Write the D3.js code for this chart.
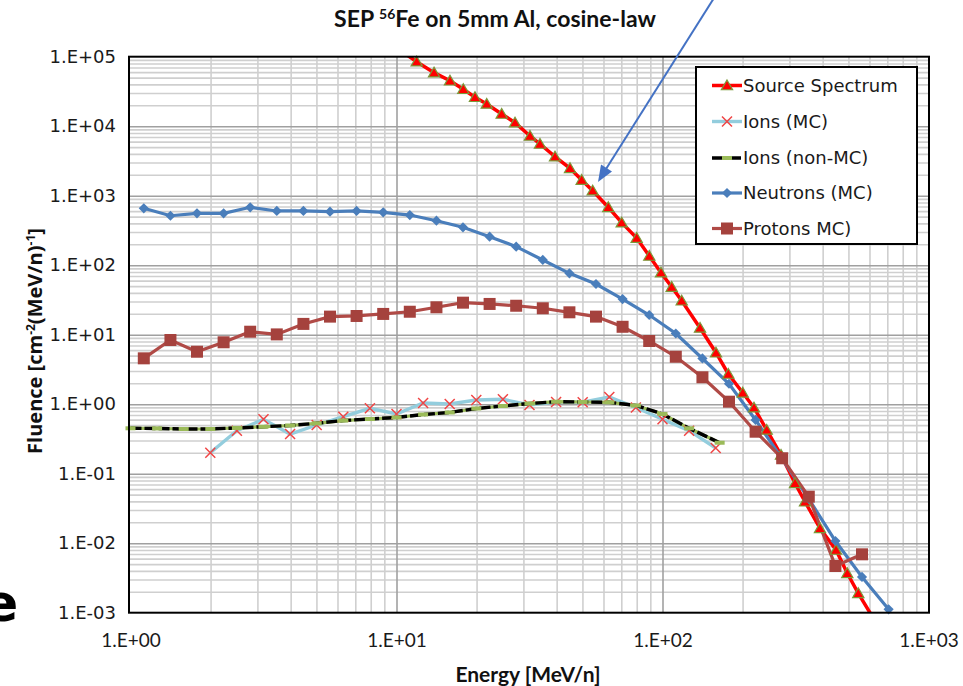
<!DOCTYPE html>
<html>
<head>
<meta charset="utf-8">
<script src="https://cdn.jsdelivr.net/npm/d3@7"></script>
<style>
  body { margin: 0; background: #fff; }
  svg { display: block; }
</style>
</head>
<body>
<svg id="chart" width="963" height="686"></svg>
<script>
// ---- Data: fluence spectra behind 5 mm Al (energy in MeV/n, fluence in cm^-2 (MeV/n)^-1)
const sourceEnergy = [11.0, 11.91, 13.84, 15.89, 17.83, 19.73, 21.84, 24.86, 27.90, 31.76, 34.63, 39.44, 44.91,
  49.69, 54.65, 62.55, 70.26, 79.98, 89.21, 98.72, 108.3, 118.1, 138.4, 158.9, 176.8, 200.3,
  220.8, 246.5, 279.0, 314.9, 343.4, 390.9, 449.1, 495.1, 544.6, 613.0];
const sourceFluence = [105000, 84700, 58900, 45100, 34000, 26100, 20900, 14980, 11230, 7230, 5545, 3640, 2480,
  1680, 1180, 681, 409, 246, 135.6, 78, 48.5, 30.8, 12.5, 5.5, 2.72, 1.46,
  0.891, 0.426, 0.186, 0.0728, 0.0395, 0.01637, 0.00798, 0.00369, 0.0019, 0.000897];

const ionMcEnergy = [1.995, 2.512, 3.162, 3.981, 5.012, 6.310, 7.943, 10.0, 12.59, 15.85,
  19.95, 25.12, 31.62, 39.81, 50.12, 63.10, 79.43, 100.0, 125.9, 158.5];
const ionMcFluence = [0.2005, 0.416, 0.607, 0.372, 0.502, 0.661, 0.873, 0.723, 1.04, 1.007,
  1.148, 1.177, 0.973, 1.076, 1.07, 1.27, 0.897, 0.607, 0.416, 0.234];

const ionNonMcEnergy = [1.0, 1.259, 1.585, 1.995, 2.512, 3.162, 3.981, 5.012, 6.310, 7.943, 10.0, 12.59,
  15.85, 19.95, 25.12, 31.62, 39.81, 50.12, 63.10, 79.43, 100.0, 125.9, 164.0];
const ionNonMcFluence = [0.450, 0.448, 0.440, 0.440, 0.455, 0.474, 0.494, 0.531, 0.582, 0.612, 0.644, 0.711,
  0.760, 0.867, 0.942, 1.023, 1.086, 1.076, 1.065, 0.958, 0.723, 0.450, 0.279];

const neutronEnergy = [1.122, 1.413, 1.778, 2.239, 2.818, 3.548, 4.467, 5.623, 7.079, 8.913, 11.22, 14.13,
  17.78, 22.39, 28.18, 35.48, 44.67, 56.23, 70.79, 89.13, 112.2, 141.3, 177.8, 223.9,
  281.8, 354.8, 446.7, 562.3, 707.9];
const neutronFluence = [659, 515, 558, 558, 681, 603, 603, 589, 603, 577, 527, 437,
  351, 257, 185, 119, 76.4, 53.6, 32.6, 19.2, 10.4, 4.55, 1.97, 0.593,
  0.163, 0.0433, 0.01076, 0.00327, 0.00112];

const protonEnergy = neutronEnergy.slice(0, 28);
const protonFluence = [4.57, 8.39, 5.69, 7.78, 11.04, 10.1, 14.3, 18.2, 18.6, 19.9, 21.4, 24.8,
  28.9, 27.7, 26.1, 24.0, 21.0, 18.2, 13.0, 8.12, 4.82, 2.44, 1.087, 0.402,
  0.1667, 0.0467, 0.0047, 0.00692];

// ---- Axis ticks
const xTickValues = [1, 10, 100, 1000];
const xTickLabels = ["1.E+00", "1.E+01", "1.E+02", "1.E+03"];
const yTickValues = [1e-3, 1e-2, 1e-1, 1, 10, 100, 1e3, 1e4, 1e5];
const yTickLabels = ["1.E-03", "1.E-02", "1.E-01", "1.E+00", "1.E+01", "1.E+02", "1.E+03", "1.E+04", "1.E+05"];

const seriesNames = ["Source Spectrum", "Ions (MC)", "Ions (non-MC)", "Neutrons (MC)", "Protons MC)"];

// ---- Layout
const svg = d3.select("#chart");
const plot = { left: 129, right: 929, top: 56.7, bottom: 612.7 };

const x = d3.scaleLog().domain([1, 1000]).range([130.5, 928.5]);
const y = d3.scaleLog().domain([1e-3, 1e5]).range([plot.bottom, plot.top]);

const colors = {
  source: "#ff0000",
  sourceEdge: "#7a9a3a",
  ionMcLine: "#93cddd",
  ionMcMark: "#f04545",
  nonMcDash: "#000000",
  nonMcGreen: "#9bbb59",
  neutron: "#4a7ebb",
  protonLine: "#b04a46",
  protonMark: "#a5423d",
  gridMinor: "#cfcfcf",
  gridMajor: "#a0a0a0"
};

const defs = svg.append("defs");
defs.append("clipPath").attr("id", "plotClip")
  .append("rect")
  .attr("x", plot.left).attr("y", plot.top)
  .attr("width", plot.right - plot.left).attr("height", plot.bottom - plot.top);

// ---- Gridlines (minor 2..9 per decade, major at decades)
const isDecade = v => Math.abs(Math.log10(v) - Math.round(Math.log10(v))) < 1e-6;
const xMinor = x.ticks(40).filter(v => !isDecade(v));
const yMinor = y.ticks(80).filter(v => !isDecade(v));

const grid = svg.append("g").attr("class", "grid");
grid.append("g")
  .attr("transform", `translate(0,${plot.bottom})`)
  .call(d3.axisBottom(x).tickValues(xMinor).tickSize(-(plot.bottom - plot.top)).tickFormat(""))
  .call(g => g.select(".domain").remove())
  .call(g => g.selectAll("line").attr("stroke", colors.gridMinor).attr("stroke-width", 1.6));
grid.append("g")
  .attr("transform", `translate(${plot.left},0)`)
  .call(d3.axisLeft(y).tickValues(yMinor).tickSize(-(plot.right - plot.left)).tickFormat(""))
  .call(g => g.select(".domain").remove())
  .call(g => g.selectAll("line").attr("stroke", colors.gridMinor).attr("stroke-width", 1.6));
grid.append("g")
  .attr("transform", `translate(0,${plot.bottom})`)
  .call(d3.axisBottom(x).tickValues(xTickValues.slice(1, -1)).tickSize(-(plot.bottom - plot.top)).tickFormat(""))
  .call(g => g.select(".domain").remove())
  .call(g => g.selectAll("line").attr("stroke", colors.gridMajor).attr("stroke-width", 1.6));
grid.append("g")
  .attr("transform", `translate(${plot.left},0)`)
  .call(d3.axisLeft(y).tickValues(yTickValues.slice(1, -1)).tickSize(-(plot.right - plot.left)).tickFormat(""))
  .call(g => g.select(".domain").remove())
  .call(g => g.selectAll("line").attr("stroke", colors.gridMajor).attr("stroke-width", 1.6));

// ---- Axis tick labels
const xAxis = svg.append("g")
  .attr("transform", `translate(0,${plot.bottom})`)
  .call(d3.axisBottom(x).tickValues(xTickValues).tickSize(0).tickPadding(21)
    .tickFormat((d, i) => xTickLabels[i]));
xAxis.select(".domain").remove();
xAxis.selectAll("text")
  .attr("font-family", "Lato, 'Noto Sans', sans-serif")
  .attr("font-size", 19).attr("fill", "#1a1a1a");

const yAxis = svg.append("g")
  .attr("transform", `translate(${plot.left},0)`)
  .call(d3.axisLeft(y).tickValues(yTickValues).tickSize(0).tickPadding(13)
    .tickFormat((d, i) => yTickLabels[i]));
yAxis.select(".domain").remove();
yAxis.selectAll("text")
  .attr("font-family", "'DejaVu Sans', sans-serif")
  .attr("font-size", 18).attr("fill", "#1a1a1a");

// ---- Series
const body = svg.append("g");
const linesLayer = body.append("g").attr("clip-path", "url(#plotClip)");
const line = d3.line().x(d => x(d[0])).y(d => y(d[1]));

const sourceData = d3.zip(sourceEnergy, sourceFluence);
const ionMcData = d3.zip(ionMcEnergy, ionMcFluence);
const ionNonMcData = d3.zip(ionNonMcEnergy, ionNonMcFluence);
const neutronData = d3.zip(neutronEnergy, neutronFluence);
const protonData = d3.zip(protonEnergy, protonFluence);

const triPath = d3.symbol(d3.symbolTriangle, 55)();
const sqPath = d3.symbol(d3.symbolSquare, 144)();
const diaPath = d3.symbol(d3.symbolSquare, 52)();
const crossPath = "M-5,-5L5,5M-5,5L5,-5";

// Source spectrum
linesLayer.append("path").datum(sourceData).attr("d", line)
  .attr("fill", "none").attr("stroke", colors.source).attr("stroke-width", 3.5);
body.append("g").selectAll("path").data(sourceData.slice(1, -1)).join("path")
  .attr("d", triPath)
  .attr("transform", d => `translate(${x(d[0])},${y(d[1]) + 1})`)
  .attr("fill", colors.source).attr("stroke", colors.sourceEdge).attr("stroke-width", 1.2);

// Ions (MC)
linesLayer.append("path").datum(ionMcData).attr("d", line)
  .attr("fill", "none").attr("stroke", colors.ionMcLine).attr("stroke-width", 3.4);
body.append("g").selectAll("path").data(ionMcData).join("path")
  .attr("d", crossPath)
  .attr("transform", d => `translate(${x(d[0])},${y(d[1])})`)
  .attr("fill", "none").attr("stroke", colors.ionMcMark).attr("stroke-width", 1.5);

// Ions (non-MC)
linesLayer.append("path").datum(ionNonMcData).attr("d", line)
  .attr("fill", "none").attr("stroke", colors.nonMcGreen).attr("stroke-width", 3.2);
linesLayer.append("path").datum(ionNonMcData).attr("d", line)
  .attr("fill", "none").attr("stroke", colors.nonMcDash).attr("stroke-width", 3.4)
  .attr("stroke-dasharray", "11,3");
body.append("g").selectAll("rect").data(ionNonMcData).join("rect")
  .attr("x", d => x(d[0]) - 5).attr("y", d => y(d[1]) - 2)
  .attr("width", 10).attr("height", 4)
  .attr("fill", colors.nonMcGreen);

// Neutrons (MC)
linesLayer.append("path").datum(neutronData).attr("d", line)
  .attr("fill", "none").attr("stroke", colors.neutron).attr("stroke-width", 3.2);
body.append("g").selectAll("path").data(neutronData).join("path")
  .attr("d", diaPath)
  .attr("transform", d => `translate(${x(d[0])},${y(d[1])}) rotate(45)`)
  .attr("fill", colors.neutron);

// Protons MC
linesLayer.append("path").datum(protonData).attr("d", line)
  .attr("fill", "none").attr("stroke", colors.protonLine).attr("stroke-width", 3.2);
body.append("g").selectAll("path").data(protonData).join("path")
  .attr("d", sqPath)
  .attr("transform", d => `translate(${x(d[0])},${y(d[1])})`)
  .attr("fill", colors.protonMark);

// ---- Plot frame
svg.append("rect")
  .attr("x", plot.left).attr("y", plot.top)
  .attr("width", plot.right - plot.left).attr("height", plot.bottom - plot.top)
  .attr("fill", "none").attr("stroke", "#000").attr("stroke-width", 2);

// ---- Legend
const legend = svg.append("g").attr("transform", "translate(696,67)");
legend.append("rect").attr("width", 221).attr("height", 177)
  .attr("fill", "#fff").attr("stroke", "#000").attr("stroke-width", 2);
const rowY = [18.5, 54.5, 91, 126, 161.5];
const items = legend.selectAll("g.item").data(seriesNames).join("g")
  .attr("class", "item")
  .attr("transform", (d, i) => `translate(16,${rowY[i]})`);
items.append("text")
  .attr("x", 31).attr("y", 0).attr("dy", "0.35em")
  .attr("font-family", "'DejaVu Sans', sans-serif").attr("font-size", 18)
  .attr("fill", "#1a1a1a")
  .text(d => d);

const lg0 = items.filter((d, i) => i === 0);
lg0.append("line").attr("x1", 0).attr("x2", 30).attr("stroke", colors.source).attr("stroke-width", 3.5);
lg0.append("path").attr("d", triPath).attr("transform", "translate(15,1)")
  .attr("fill", colors.source).attr("stroke", colors.sourceEdge).attr("stroke-width", 1.2);

const lg1 = items.filter((d, i) => i === 1);
lg1.append("line").attr("x1", 0).attr("x2", 30).attr("stroke", colors.ionMcLine).attr("stroke-width", 3.4);
lg1.append("path").attr("d", crossPath).attr("transform", "translate(15,0)")
  .attr("fill", "none").attr("stroke", colors.ionMcMark).attr("stroke-width", 1.5);

const lg2 = items.filter((d, i) => i === 2);
lg2.append("line").attr("x1", 0).attr("x2", 30).attr("stroke", colors.nonMcDash).attr("stroke-width", 3.4)
  .attr("stroke-dasharray", "13,3");
lg2.append("rect").attr("x", 10).attr("y", -2).attr("width", 10).attr("height", 4).attr("fill", colors.nonMcGreen);

const lg3 = items.filter((d, i) => i === 3);
lg3.append("line").attr("x1", 0).attr("x2", 30).attr("stroke", colors.neutron).attr("stroke-width", 3.2);
lg3.append("path").attr("d", diaPath).attr("transform", "translate(15,0) rotate(45)").attr("fill", colors.neutron);

const lg4 = items.filter((d, i) => i === 4);
lg4.append("line").attr("x1", 0).attr("x2", 30).attr("stroke", colors.protonLine).attr("stroke-width", 3.2);
lg4.append("path").attr("d", sqPath).attr("transform", "translate(15,0)").attr("fill", colors.protonMark);

// ---- Titles
const title = svg.append("text")
  .attr("x", 495).attr("y", 27).attr("text-anchor", "middle")
  .attr("font-family", "Lato, 'Noto Sans', sans-serif").attr("font-weight", "bold")
  .attr("font-size", 23).attr("fill", "#111");
title.append("tspan").text("SEP ");
title.append("tspan").attr("font-size", 14).attr("dy", -8).text("56");
title.append("tspan").attr("dy", 8).text("Fe on 5mm Al, cosine-law");

svg.append("text")
  .attr("x", 528).attr("y", 682).attr("text-anchor", "middle")
  .attr("font-family", "Lato, 'Noto Sans', sans-serif").attr("font-weight", "bold")
  .attr("font-size", 21).attr("fill", "#111")
  .text("Energy [MeV/n]");

const yTitle = svg.append("text")
  .attr("transform", "translate(42,341) rotate(-90)")
  .attr("text-anchor", "middle")
  .attr("font-family", "'Open Sans', sans-serif").attr("font-weight", "bold")
  .attr("font-size", 20).attr("fill", "#111");
yTitle.append("tspan").text("Fluence [cm");
yTitle.append("tspan").attr("font-size", 12).attr("dy", -7).text("-2");
yTitle.append("tspan").attr("dy", 7).text("(MeV/n)");
yTitle.append("tspan").attr("font-size", 12).attr("dy", -7).text("-1");
yTitle.append("tspan").attr("dy", 7).text("]");

// ---- Annotation arrow pointing at the source spectrum
const arrowColor = "#4472c4";
svg.append("line")
  .attr("x1", 714).attr("y1", -2).attr("x2", 606).attr("y2", 169)
  .attr("stroke", arrowColor).attr("stroke-width", 2);
svg.append("path")
  .attr("d", "M598,182L612,171.5L601,164.5Z")
  .attr("fill", arrowColor);

// ---- Partial glyph at the lower-left edge
svg.append("text")
  .attr("x", -17).attr("y", 621)
  .attr("font-family", "'DejaVu Sans', sans-serif").attr("font-weight", "bold")
  .attr("font-size", 52).attr("fill", "#000")
  .text("e");
</script>
</body>
</html>
